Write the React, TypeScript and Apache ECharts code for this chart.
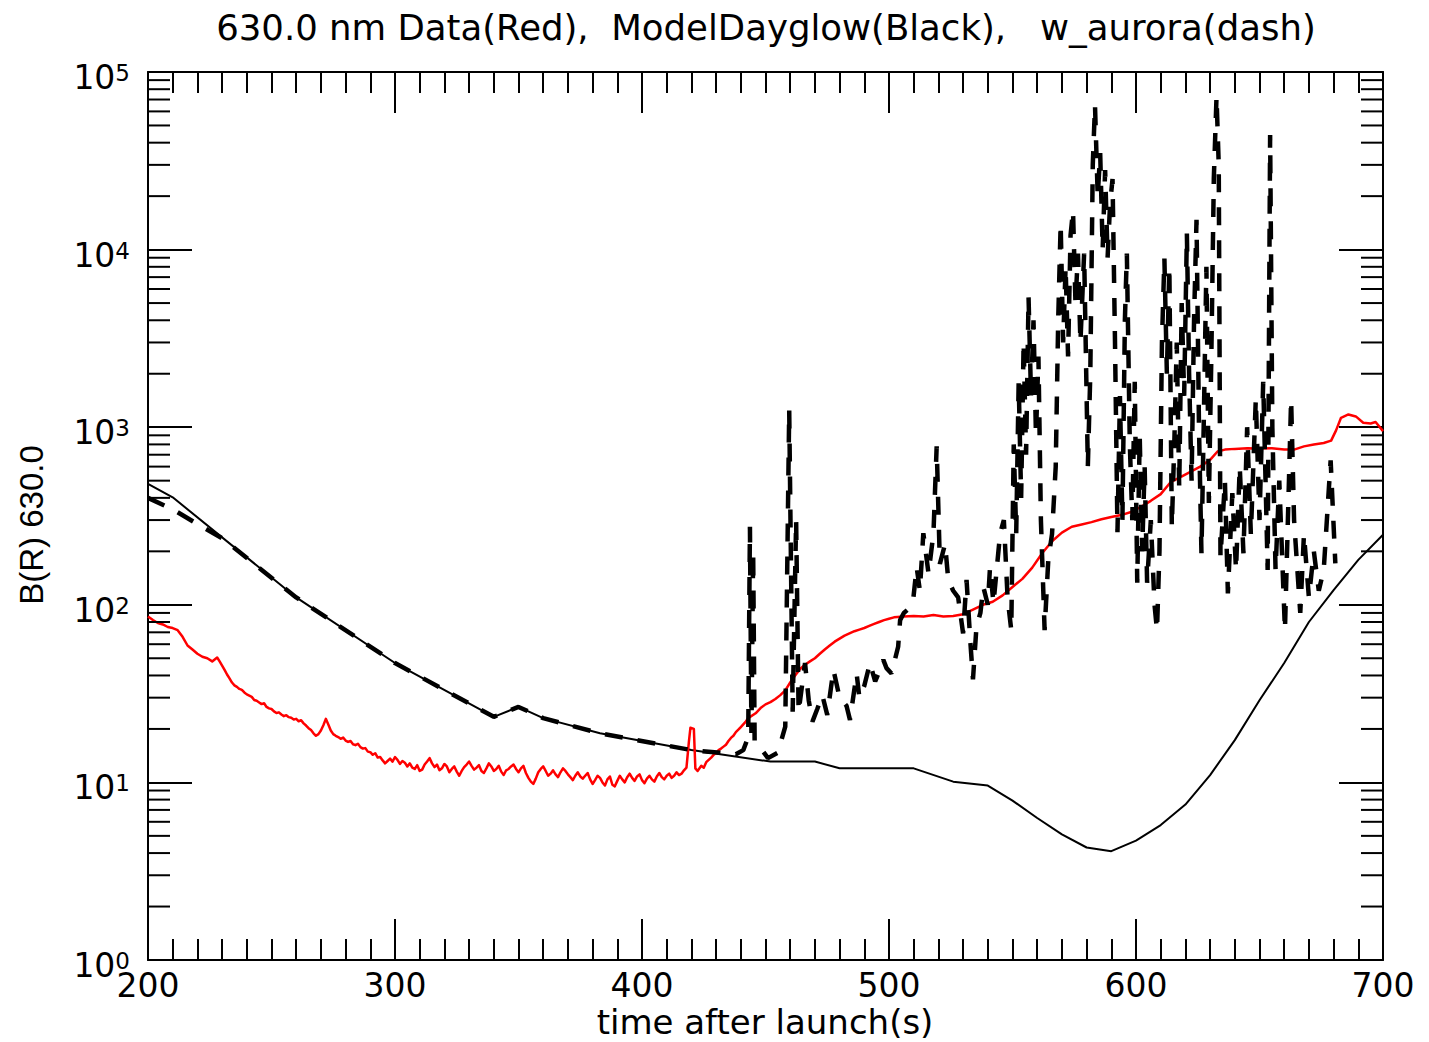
import React, { useEffect, useRef } from 'react';
import * as echarts from 'echarts';

// ---- axes ----
const X_MIN = 200;
const X_MAX = 700;
const X_STEP = 100;
const Y_MIN = 1;
const Y_MAX = 100000;

const titleText = '630.0 nm Data(Red),  ModelDayglow(Black),   w_aurora(dash)';
const xAxisName = 'time after launch(s)';
const yAxisName = 'B(R) 630.0';

// minor tick values of the log axis (2..9 x 10^k)
const yMinorTickValues = [
  2, 3, 4, 5, 6, 7, 8, 9,
  20, 30, 40, 50, 60, 70, 80, 90,
  200, 300, 400, 500, 600, 700, 800, 900,
  2000, 3000, 4000, 5000, 6000, 7000, 8000, 9000,
  20000, 30000, 40000, 50000, 60000, 70000, 80000, 90000,
];

// ---- ModelDayglow (black solid) [time, B(R)] ----
const modelDayglow: [number, number][] = [
  [200, 480], [210, 403], [260, 110], [300, 47], [340, 23.4], [350, 26.6], [360, 23.0],
  [383, 18.9], [420, 15.2], [452, 13.1], [470, 13.1], [480, 12.0], [510, 12.0], [526, 10.1],
  [540, 9.6], [550, 7.9], [560, 6.3], [570, 5.1], [580, 4.3], [590, 4.1], [600, 4.7],
  [610, 5.75], [620, 7.5], [630, 11], [640, 17.3], [650, 29], [660, 47], [670, 80],
  [680, 121], [690, 179], [700, 248],
];

// ---- Data (red) [time, B(R)] ----
const dataRed: [number, number][] = [
  [200, 86], [202, 82], [204, 79], [206, 77.5], [208, 75], [210, 74], [212, 72], [214, 66],
  [216, 59], [218, 56], [220, 53], [222, 51], [224, 50], [226, 48],
  [228, 50.5], [229, 48], [230, 45.5], [231, 43], [232, 40.5], [233, 38.5], [234, 36.5],
  [235, 35.2], [236, 34.5], [237, 33.6], [238, 33.2], [239, 32.1], [240, 31.3], [241, 30.8],
  [242, 30.3], [243, 29.1], [244, 28.8], [245, 28.2], [246, 27.6], [247, 27.9], [248, 26.6],
  [249, 26.1], [250, 25.9], [251, 25.1], [252, 24.6], [253, 24.8], [254, 24.1], [255, 23.6],
  [256, 23.9], [257, 23.3], [258, 23.1], [259, 22.6], [260, 22.8], [261, 22.1], [262, 22.4],
  [263, 21.5], [264, 20.9], [265, 20.2], [266, 19.7], [267, 18.9], [268, 18.3], [269, 18.7],
  [270, 19.6], [271, 21.0], [272, 22.8], [273, 21.2], [274, 19.6], [275, 18.7], [276, 18.3],
  [277, 18.0], [278, 17.6], [279, 17.9], [280, 17.2], [281, 16.9], [282, 17.1], [283, 16.4],
  [284, 16.2], [285, 16.5], [286, 15.8], [287, 15.5], [288, 15.6], [289, 14.9], [290, 14.8],
  [291, 14.3], [292, 14.6], [293, 13.8], [294, 13.9], [295, 13.3], [296, 12.8], [297, 13.2],
  [298, 13.6], [299, 13.1], [300, 13.9], [301, 13.4], [302, 12.7], [303, 13.2], [304, 12.9],
  [305, 12.3], [306, 12.8], [307, 12.1], [308, 11.9], [309, 12.5], [310, 11.6], [311, 11.8],
  [312, 12.6], [313, 13.1], [314, 13.7], [315, 12.8], [316, 12.2], [317, 12.6], [318, 11.7],
  [319, 12.0], [320, 12.7], [321, 12.3], [322, 11.4], [323, 11.9], [324, 12.3], [325, 11.5],
  [326, 10.9], [327, 11.6], [328, 12.2], [329, 12.6], [330, 13.1], [331, 12.4], [332, 11.8],
  [333, 12.1], [334, 12.5], [335, 11.6], [336, 11.3], [337, 12.0], [338, 12.8], [339, 12.3],
  [340, 11.6], [341, 11.9], [342, 12.4], [343, 11.5], [344, 11.0], [345, 11.7], [346, 11.9],
  [347, 12.3], [348, 12.6], [349, 11.9], [350, 11.4], [351, 12.0], [352, 12.4], [353, 11.3],
  [354, 10.6], [355, 10.1], [356, 9.8], [357, 10.5], [358, 11.4], [359, 11.9], [360, 12.3],
  [361, 11.6], [362, 10.9], [363, 11.2], [364, 11.7], [365, 11.1], [366, 10.7], [367, 11.4],
  [368, 12.0], [369, 11.6], [370, 11.1], [371, 10.7], [372, 10.3], [373, 10.9], [374, 11.4],
  [375, 10.8], [376, 10.5], [377, 10.9], [378, 11.3], [379, 10.4], [380, 9.8], [381, 10.3],
  [382, 10.9], [383, 10.6], [384, 10.0], [385, 9.6], [386, 10.4], [387, 10.8], [388, 9.7],
  [389, 9.5], [390, 10.2], [391, 10.9], [392, 10.4], [393, 10.0], [394, 10.7], [395, 11.2],
  [396, 10.6], [397, 10.2], [398, 10.8], [399, 11.1], [400, 10.3], [401, 9.9], [402, 10.5],
  [403, 10.9], [404, 10.4], [405, 10.1], [406, 10.8], [407, 11.3], [408, 10.7], [409, 10.4],
  [410, 10.9], [411, 11.2], [412, 10.6], [413, 10.9], [414, 11.4], [415, 11.0], [416, 11.2],
  [417, 11.7], [418, 12.1], [419, 17], [419.6, 20.3], [421, 20.0], [421.6, 12.0],
  [422.5, 11.6], [424, 12.4], [425, 12.1], [426, 13.0], [427, 13.4], [428, 13.8], [429, 14.3],
  [430, 14.6], [431, 15.2], [432, 15.5], [433, 15.9], [434, 16.3], [435, 17.1], [436, 17.8],
  [437, 18.3], [438, 19.2], [439, 19.8], [440, 20.5], [442, 22.0], [443, 23], [446, 24.5],
  [448, 26.2], [450, 27.5], [452, 28.3], [454, 29.5], [456, 31.0], [458, 33], [460, 36.5],
  [462, 40], [464, 43.5], [466, 46], [468, 48], [470, 50], [472, 53], [474, 56], [476, 59],
  [478, 62], [480, 64.5], [482, 67], [484, 69], [486, 71], [488, 72.5], [490, 74], [492, 76],
  [494, 78], [496, 80], [498, 82], [500, 83.5], [502, 85], [506, 86], [510, 86.5],
  [514, 86], [518, 87.5], [522, 86], [526, 86.5], [530, 88.5], [534, 94], [538, 100],
  [542, 104], [546, 113], [550, 126], [554, 140], [558, 162], [562, 195], [566, 228],
  [570, 255], [574, 275], [578, 283], [582, 292], [586, 303], [590, 312], [594, 320],
  [598, 333], [602, 356], [606, 385], [610, 420], [614, 490], [618, 524], [622, 560],
  [626, 600], [630, 655], [633, 730], [636, 748], [640, 755], [645, 760], [650, 758],
  [655, 762], [660, 750], [664, 748], [668, 780], [672, 800], [676, 815], [679, 840],
  [681, 960], [683, 1130], [686, 1180], [689, 1150], [692, 1060], [695, 1050], [697, 1070],
  [700, 950],
];

// ---- w_aurora (black dashed) [time, B(R)] ----
const wAurora: [number, number][] = [
  [200, 400], [210, 345], [220, 285], [230, 237], [260, 110], [300, 47], [340, 23.4],
  [350, 26.6], [360, 23.0], [383, 18.9], [420, 15.2], [438, 14.4], [441, 15.2], [443, 18],
  [443.7, 275], [444.3, 19], [445, 200], [445.6, 17], [448, 15.6], [451, 13.7], [455, 14.7],
  [458, 20.6], [459.6, 1250], [461, 25], [462.4, 300], [463.4, 25], [466, 47], [467.5, 29],
  [469, 22], [471, 26], [473, 31], [475, 24], [477.5, 43], [480, 30], [482.8, 27],
  [484.2, 22.5], [486.9, 41], [488, 30], [490, 35], [492.3, 47], [494.4, 37], [496, 42],
  [497.7, 49], [499, 44], [501, 41], [503.7, 58], [504.5, 82], [506, 90], [508, 95],
  [509.9, 110], [511.2, 163], [512.5, 120], [513.9, 253], [516, 150], [518, 253],
  [519.3, 780], [520.6, 170], [522.7, 220], [524, 138], [526, 120], [528, 110], [530, 69],
  [531.4, 138], [533, 60], [534, 38], [535.4, 75], [537, 90], [538.2, 126], [540, 100],
  [540.9, 163], [542.3, 102], [545, 253], [546.5, 300], [548, 110], [549.5, 72],
  [550.5, 800], [551.5, 250], [552.5, 1800], [553.5, 400], [554.5, 3000], [555.5, 700],
  [556.5, 5400], [557.5, 1500], [558.5, 4000], [559.5, 900], [560.5, 2500], [561.5, 300],
  [563, 72], [564.5, 180], [566, 250], [567.5, 600], [568.5, 4000], [569.5, 14000],
  [570.5, 3000], [571.5, 8000], [572.5, 2500], [573.5, 12000], [574.5, 16600], [575.5, 5000],
  [576.5, 9500], [577.5, 3000], [579, 9500], [580.5, 600], [581.5, 2000], [582.5, 30000],
  [583.4, 65000], [584.5, 20000], [585.5, 35000], [586.5, 10000], [587.5, 28000],
  [588.5, 9000], [589.5, 18000], [590.5, 25000], [591.5, 3000], [592.5, 256], [593.5, 1500],
  [594.5, 300], [595.5, 4000], [596.3, 9500], [597.5, 800], [598.5, 300], [599.5, 1800],
  [600.5, 133], [601.5, 900], [602.5, 200], [603.5, 600], [604.5, 133], [606, 300],
  [607.5, 100], [608.5, 72], [609.5, 200], [610.5, 3000], [611.5, 8900], [612.5, 2000],
  [613.5, 8000], [614.5, 275], [615.5, 800], [616.5, 3000], [617.5, 450], [618.5, 5000],
  [619.5, 1500], [620.6, 12300], [621.5, 2000], [622.5, 500], [623.5, 4000], [624.5, 14700],
  [625.5, 1000], [626.5, 195], [627.5, 1200], [628.5, 8000], [629.5, 375], [630.5, 2500],
  [631.5, 25000], [632.6, 72600], [633.5, 30000], [634.2, 185], [636, 500], [637.2, 116],
  [639, 425], [640.5, 157], [642, 600], [643.5, 195], [645, 1000], [646.5, 250],
  [648.5, 1440], [650, 300], [651.5, 1800], [653.3, 157], [654.3, 44200], [655.2, 1000],
  [656.5, 157], [658, 500], [660.3, 72], [662.8, 1430], [664, 300], [666.5, 90], [668, 250],
  [670, 110], [672, 200], [674, 120], [676, 157], [678.8, 650], [680.7, 171],
];

const FONT = '"DejaVu Sans", "Liberation Sans", sans-serif';
const BLACK = '#000000';

function makeXAxis(position: 'bottom' | 'top', showLabel: boolean) {
  return {
    type: 'value',
    position,
    min: X_MIN,
    max: X_MAX,
    interval: X_STEP,
    axisLine: { show: true, onZero: false, lineStyle: { color: BLACK, width: 2 } },
    axisTick: { show: true, inside: true, length: 41, lineStyle: { color: BLACK, width: 2 } },
    minorTick: { show: true, splitNumber: 10, length: 21, lineStyle: { color: BLACK, width: 2 } },
    splitLine: { show: false },
    minorSplitLine: { show: false },
    axisLabel: {
      show: showLabel,
      margin: 9,
      color: BLACK,
      fontFamily: FONT,
      fontSize: 33,
      showMinLabel: true,
      showMaxLabel: true,
    },
  };
}

function makeYAxis(position: 'left' | 'right', showLabel: boolean) {
  return {
    type: 'log',
    logBase: 10,
    position,
    min: Y_MIN,
    max: Y_MAX,
    axisLine: { show: true, onZero: false, lineStyle: { color: BLACK, width: 2 } },
    axisTick: { show: true, inside: true, length: 44, lineStyle: { color: BLACK, width: 2 } },
    minorTick: { show: false },
    splitLine: { show: false },
    minorSplitLine: { show: false },
    axisLabel: {
      show: showLabel,
      margin: 18,
      color: BLACK,
      showMinLabel: true,
      showMaxLabel: true,
      formatter: (v: number) => `{b|10}{s|${Math.round(Math.log10(v))}}`,
      rich: {
        b: { fontFamily: FONT, fontSize: 33, lineHeight: 33, color: BLACK, padding: [11, 0, 0, 0] },
        s: { fontFamily: FONT, fontSize: 23, lineHeight: 23, color: BLACK, verticalAlign: 'top', padding: [6, 0, 0, 0] },
      },
    },
  };
}

export default function App() {
  const ref = useRef<HTMLDivElement>(null);

  useEffect(() => {
    if (!ref.current) return;
    const chart = echarts.init(ref.current, null, { renderer: 'svg' });

    const option: any = {
      animation: false,
      backgroundColor: '#ffffff',
      grid: { left: 148, top: 72, width: 1235, height: 888, show: false, containLabel: false, outerBoundsMode: 'none' },
      xAxis: [makeXAxis('bottom', true), makeXAxis('top', false)],
      yAxis: [makeYAxis('left', true), makeYAxis('right', false)],
      graphic: [
        {
          type: 'text',
          x: 766,
          y: 27,
          silent: true,
          style: {
            text: titleText,
            fontFamily: FONT,
            fontSize: 35.5,
            fill: BLACK,
            align: 'center',
            verticalAlign: 'middle',
            textAlign: 'center',
            textVerticalAlign: 'middle',
          },
        },
        {
          type: 'text',
          x: 765,
          y: 1022,
          silent: true,
          style: {
            text: xAxisName,
            fontFamily: FONT,
            fontSize: 34,
            fill: BLACK,
            align: 'center',
            verticalAlign: 'middle',
            textAlign: 'center',
            textVerticalAlign: 'middle',
          },
        },
        {
          type: 'text',
          x: 31,
          y: 525,
          rotation: Math.PI / 2,
          silent: true,
          style: {
            text: yAxisName,
            fontFamily: '"Liberation Sans", Arial, sans-serif',
            fontSize: 33,
            fill: BLACK,
            align: 'center',
            verticalAlign: 'middle',
            textAlign: 'center',
            textVerticalAlign: 'middle',
          },
        },
      ],
      series: [
        {
          type: 'custom',
          name: 'yMinorTicks',
          coordinateSystem: 'cartesian2d',
          xAxisIndex: 0,
          yAxisIndex: 0,
          data: yMinorTickValues.map((v) => [X_MIN, v]),
          encode: { x: 0, y: 1 },
          clip: false,
          silent: true,
          z: 5,
          renderItem: (params: any, api: any) => {
            const p = api.coord([X_MIN, api.value(1)]);
            const cs = params.coordSys;
            const st = { stroke: BLACK, lineWidth: 2, fill: null };
            return {
              type: 'group',
              children: [
                { type: 'line', shape: { x1: cs.x, y1: p[1], x2: cs.x + 22, y2: p[1] }, style: st },
                { type: 'line', shape: { x1: cs.x + cs.width, y1: p[1], x2: cs.x + cs.width - 22, y2: p[1] }, style: st },
              ],
            };
          },
        },
        {
          type: 'line',
          name: 'ModelDayglow',
          xAxisIndex: 0,
          yAxisIndex: 0,
          data: modelDayglow,
          showSymbol: false,
          symbol: 'none',
          lineStyle: { color: BLACK, width: 2 },
          z: 2,
        },
        {
          type: 'line',
          name: 'Data',
          xAxisIndex: 0,
          yAxisIndex: 0,
          data: dataRed,
          showSymbol: false,
          symbol: 'none',
          lineStyle: { color: '#ff0000', width: 2.5, join: 'round' },
          z: 3,
        },
        {
          type: 'line',
          name: 'w_aurora',
          xAxisIndex: 0,
          yAxisIndex: 0,
          data: wAurora,
          showSymbol: false,
          symbol: 'none',
          lineStyle: { color: BLACK, width: 4.5, type: [18, 15], join: 'bevel', cap: 'butt' },
          z: 4,
        },
      ],
    };

    chart.setOption(option);
    return () => {
      chart.dispose();
    };
  }, []);

  return (
    <div
      ref={ref}
      style={{ position: 'absolute', left: 0, top: 0, width: 1429, height: 1042, background: '#fff' }}
    />
  );
}
